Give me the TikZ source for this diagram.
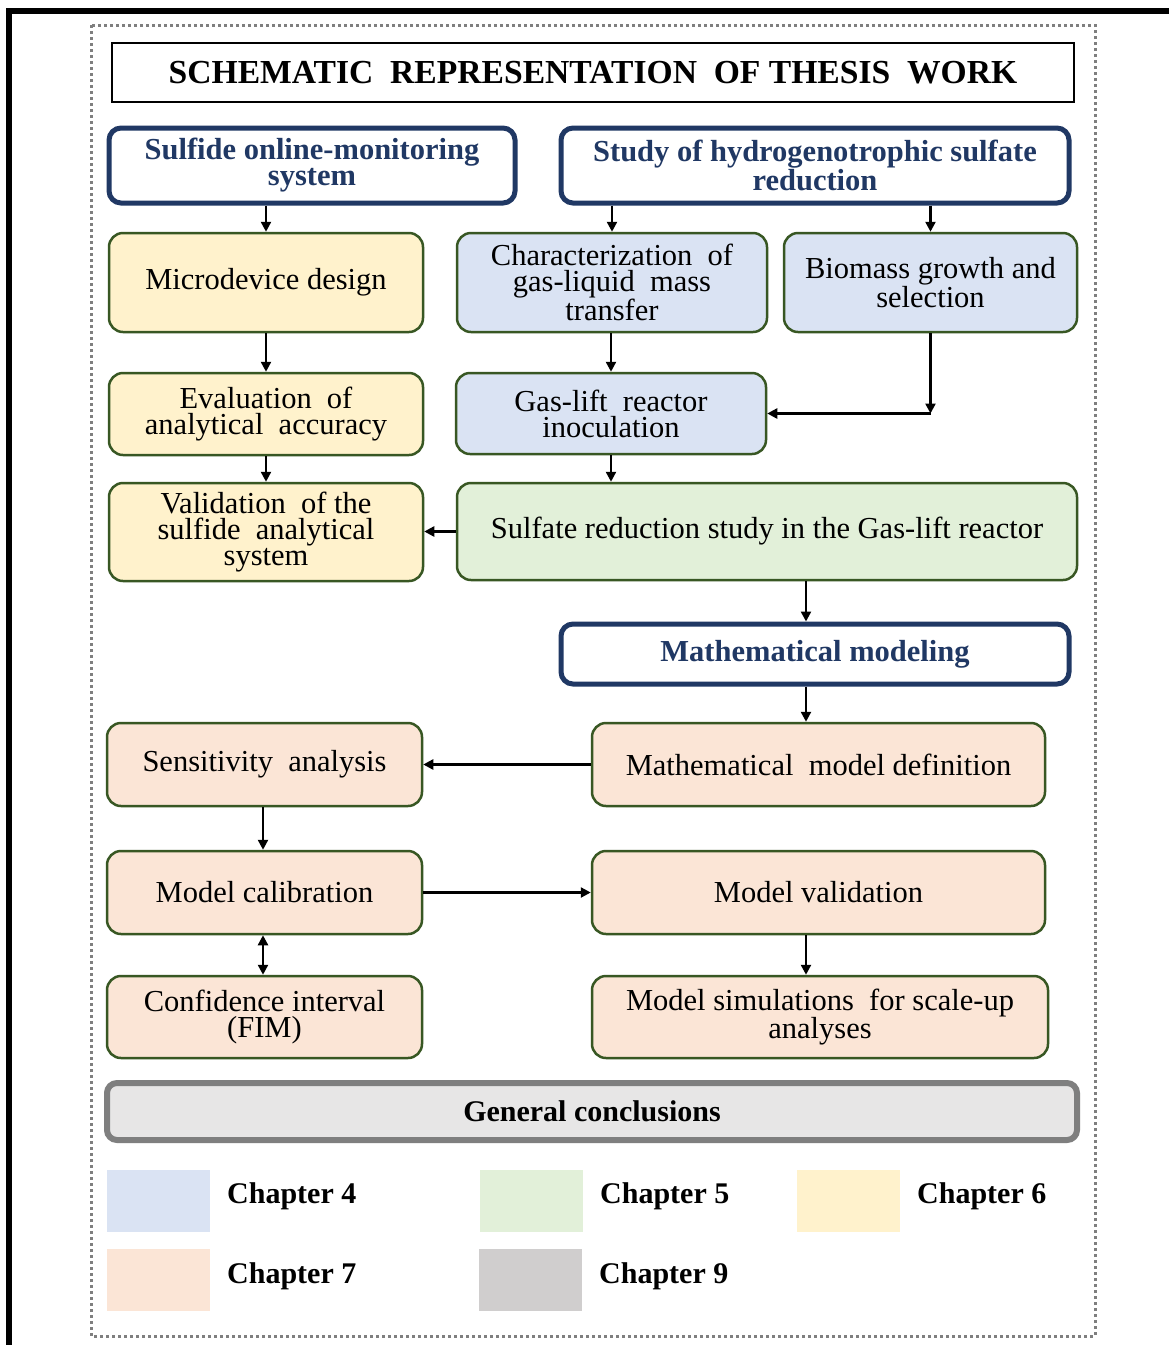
\documentclass[tikz,border=0pt]{standalone}
\usepackage{fontspec}
\setmainfont{Liberation Serif}
\usetikzlibrary{arrows.meta}
\definecolor{navy}{HTML}{203864}
\definecolor{dgreen}{HTML}{385723}
\definecolor{cblue}{HTML}{DAE3F3}
\definecolor{cgreen}{HTML}{E2F0D9}
\definecolor{cyellow}{HTML}{FFF2CC}
\definecolor{cpeach}{HTML}{FBE5D6}
\definecolor{cgrey}{HTML}{D0CECE}
\definecolor{cgreybox}{HTML}{E7E6E6}
\definecolor{gborder}{HTML}{7F7F7F}
\begin{document}
\begin{tikzpicture}[x=1pt,y=-1pt,
  box/.style={draw=dgreen, line width=2.5pt, rounded corners=14pt, align=center, inner sep=0pt,
    font=\fontsize{30.5}{26}\selectfont},
  bluebox/.style={box, fill=cblue},
  yelbox/.style={box, fill=cyellow},
  grnbox/.style={box, fill=cgreen},
  pchbox/.style={box, fill=cpeach},
  headbox/.style={draw=navy, fill=white, line width=5pt, rounded corners=12pt, align=center, inner sep=0pt,
    text=navy, font=\fontsize{30.5}{26}\selectfont\bfseries},
  arr/.style={line width=2.4pt, -{Triangle[length=10pt,width=10pt]}},
  darr/.style={line width=2.4pt, {Triangle[length=10pt,width=10pt]}-{Triangle[length=10pt,width=10pt]}},
  legsq/.style={draw=none, minimum width=103pt, minimum height=62pt, inner sep=0pt},
  legtxt/.style={anchor=west, inner sep=0pt, font=\fontsize{30}{30}\selectfont\bfseries}
]
\useasboundingbox (0,0) rectangle (1169,1345);
\fill[white] (0,0) rectangle (1169,1345);
% outer black frame of the picture
\draw[line width=6pt, line join=miter] (9,1345) -- (9,11) -- (1169,11);
% dotted frame
\draw[gborder, line width=3pt, dash pattern=on 3pt off 3pt] (91,25) rectangle (1095,1336);

% title
\node[draw=black, line width=1.5pt, minimum width=962pt, minimum height=59pt, inner sep=0pt,
  font=\fontsize{33.6}{33}\selectfont\bfseries] (title) at (593,72.5)
  {SCHEMATIC\ \ REPRESENTATION\ \ OF THESIS\ \ WORK};

% headers
\node[headbox, minimum width=406pt, minimum height=75pt] (h1) at (312,165.5)
  {Sulfide online-monitoring\\system};
\node[headbox, minimum width=508pt, minimum height=75pt] (h2) at (815,165.5)
  {Study of hydrogenotrophic sulfate\\reduction};
\node[headbox, minimum width=508pt, minimum height=60pt] (mm) at (815,654)
  {Mathematical modeling};

% chapter 6 column
\node[yelbox, minimum width=314pt, minimum height=99pt] (micro) at (266,282.5) {Microdevice design};
\node[yelbox, minimum width=314pt, minimum height=82pt] (eval) at (266,414) {Evaluation\ \ of\\analytical\ \ accuracy};
\node[yelbox, minimum width=314pt, minimum height=98pt] (valid) at (266,532) {Validation\ \ of the\\sulfide\ \ analytical\\system};

% chapter 4
\node[bluebox, minimum width=310pt, minimum height=99pt] (char) at (612,282.5) {Characterization\ \ of\\gas-liquid\ \ mass\\transfer};
\node[bluebox, minimum width=293pt, minimum height=99pt] (bio) at (930.5,282.5) {Biomass growth and\\selection};
\node[bluebox, minimum width=310pt, minimum height=81pt] (gas) at (611,413.5) {Gas-lift\ \ reactor\\inoculation};

% chapter 5
\node[grnbox, minimum width=620pt, minimum height=97pt] (sulf) at (767,531.5) {Sulfate reduction study in the Gas-lift reactor};

% chapter 7
\node[pchbox, minimum width=453pt, minimum height=83pt] (mdef) at (818.5,764.5) {Mathematical\ \ model definition};
\node[pchbox, minimum width=315pt, minimum height=83pt] (sens) at (264.5,764.5) {Sensitivity\ \ analysis};
\node[pchbox, minimum width=315pt, minimum height=83pt] (calib) at (264.5,892.5) {Model calibration};
\node[pchbox, minimum width=453pt, minimum height=83pt] (mval) at (818.5,892.5) {Model validation};
\node[pchbox, minimum width=315pt, minimum height=82pt] (conf) at (264.5,1017) {Confidence interval\\(FIM)};
\node[pchbox, minimum width=456pt, minimum height=82pt] (sim) at (820,1017) {Model simulations\ \ for scale-up\\analyses};

% chapter 9
\node[draw=gborder, fill=cgreybox, line width=6pt, rounded corners=10pt, minimum width=970pt, minimum height=57pt,
  inner sep=0pt, font=\fontsize{30}{30}\selectfont\bfseries] (gen) at (592,1111.5) {General conclusions};

% connectors
\coordinate (vx) at (806,0);
\coordinate (lx) at (263,0);
\draw[arr] (micro.north |- h1.south) -- (micro.north);
\draw[arr] (char.north |- h2.south) -- (char.north);
\draw[arr] (bio.north |- h2.south) -- (bio.north);
\draw[arr] (micro.south) -- (eval.north);
\draw[arr] (eval.south) -- (valid.north);
\draw[arr] (char.south -| gas.north) -- (gas.north);
\coordinate (bend) at (bio.south |- gas.east);
\draw[arr] (bio.south) -- (bend);
\draw[arr] (bend) -- (gas.east);
\draw[arr] (gas.south) -- (gas.south |- sulf.north);
\draw[arr] (sulf.west) -- (valid.east |- sulf.west);
\draw[arr] (vx |- sulf.south) -- (vx |- mm.north);
\draw[arr] (vx |- mm.south) -- (vx |- mdef.north);
\draw[arr] (mdef.west) -- (sens.east);
\draw[arr] (lx |- sens.south) -- (lx |- calib.north);
\draw[arr] (calib.east) -- (mval.west);
\draw[darr] (lx |- calib.south) -- (lx |- conf.north);
\draw[arr] (vx |- mval.south) -- (vx |- sim.north);

% legend
\node[legsq, fill=cblue] (l4) at (158,1200.5) {};
\node[legtxt] (t4) at (227,1196) {Chapter 4};
\node[legsq, fill=cgreen] (l5) at (531,1200.5) {};
\node[legtxt] (t5) at (600,1196) {Chapter 5};
\node[legsq, fill=cyellow] (l6) at (848,1200.5) {};
\node[legtxt] (t6) at (917,1196) {Chapter 6};
\node[legsq, fill=cpeach] (l7) at (158,1279.5) {};
\node[legtxt] (t7) at (227,1276) {Chapter 7};
\node[legsq, fill=cgrey] (l9) at (530.5,1279.5) {};
\node[legtxt] (t9) at (599,1276) {Chapter 9};
\end{tikzpicture}
\end{document}
